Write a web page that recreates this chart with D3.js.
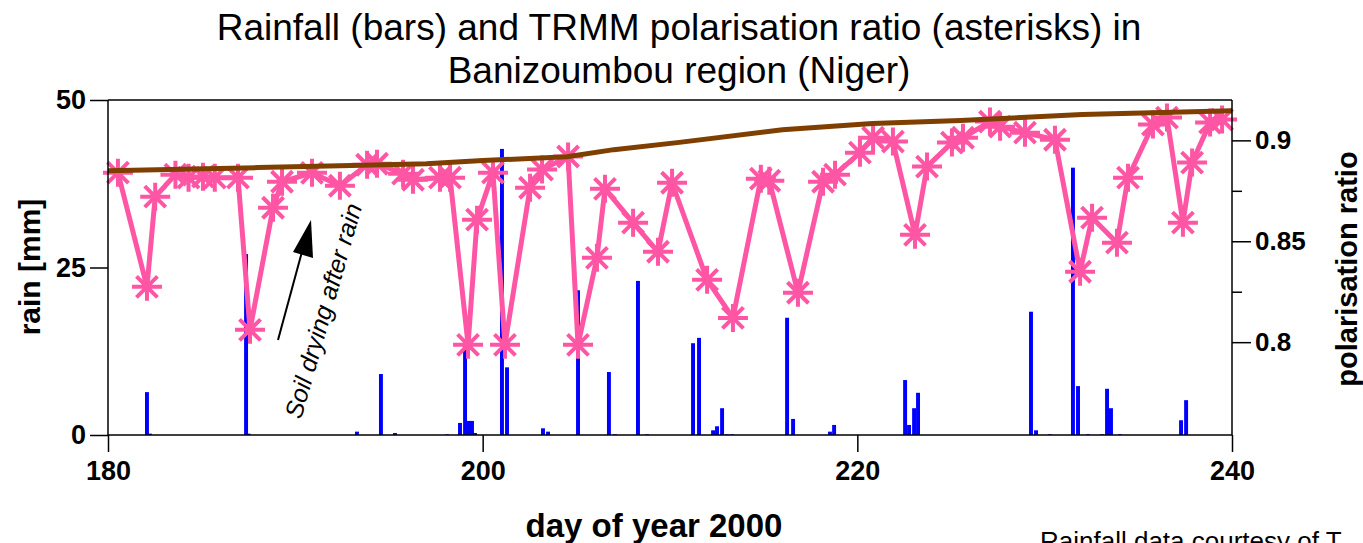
<!DOCTYPE html>
<html>
<head>
<meta charset="utf-8">
<script src="https://cdn.jsdelivr.net/npm/d3@7"></script>
<style>
  html, body { margin: 0; padding: 0; background: #ffffff; }
  svg { display: block; }
  text { font-family: "Liberation Sans", Arial, Helvetica, sans-serif; fill: #000; }
</style>
</head>
<body>
<svg id="chart" width="1363" height="543"></svg>
<script>
// ---------------- data ----------------
const xTicks = [180, 200, 220, 240];
const rainTicks = [0, 25, 50];
const ratioTicks = [0.8, 0.85, 0.9];
const ratioMinorTicks = [0.825, 0.875];

// daily rainfall (mm)
const rainDays = [182.08, 182.24, 187.37, 187.5, 193.29, 194.57, 195.32, 198.10, 198.79, 199.06,
  199.27, 199.43, 199.59, 201.03, 201.30, 203.22, 203.49, 205.09, 206.74, 207.06,
  208.29, 208.77, 211.23, 211.55, 212.30, 212.51, 212.78, 213.04, 213.31, 216.25,
  216.57, 218.54, 218.76, 222.55, 222.76, 223.03, 223.24, 229.27, 229.54, 230.28,
  231.51, 231.78, 232.31, 233.06, 233.33, 233.54, 234.02, 237.28, 237.55];
const rainMM = [6.4, 0.2, 27.0, 0.2, 0.5, 9.1, 0.3, 0.1, 1.8, 14.0,
  2.1, 2.1, 0.3, 42.7, 10.1, 1.0, 0.5, 21.6, 9.4, 0.1,
  23.0, 0.1, 13.7, 14.5, 0.7, 1.3, 4.0, 0.1, 0.1, 17.5,
  2.4, 0.5, 1.5, 8.2, 1.5, 4.0, 6.3, 18.4, 0.7, 0.1,
  39.9, 7.3, 0.1, 0.1, 6.9, 4.0, 0.1, 2.2, 5.2];

// TRMM polarisation ratio (asterisks)
const polDays = [180.53, 182.08, 182.52, 183.60, 184.30, 185.07, 185.70, 186.94, 187.58, 188.81,
  189.29, 190.89, 192.38, 193.83, 194.36, 195.75, 196.28, 197.72, 198.26, 199.22,
  199.70, 200.55, 201.19, 202.53, 203.17, 204.56, 205.09, 206.10, 206.53, 208.03,
  209.36, 210.11, 211.98, 213.36, 214.85, 215.30, 216.83, 218.17, 218.81, 220.14,
  220.84, 221.90, 223.08, 223.72, 225.05, 225.64, 227.08, 227.62, 228.95, 230.55,
  231.89, 232.53, 233.86, 234.45, 235.78, 236.53, 237.38, 237.87, 238.83, 239.47];
const polRatio = [0.8840, 0.8274, 0.8721, 0.8830, 0.8815, 0.8820, 0.8815, 0.8815, 0.8061, 0.8666,
  0.8795, 0.8839, 0.8775, 0.8879, 0.8884, 0.8835, 0.8805, 0.8815, 0.8815, 0.7987,
  0.8607, 0.8840, 0.7987, 0.8765, 0.8855, 0.8920, 0.7987, 0.8418, 0.8760, 0.8592,
  0.8448, 0.8790, 0.8309, 0.8120, 0.8810, 0.8800, 0.8245, 0.8795, 0.8830, 0.8939,
  0.9013, 0.8994, 0.8532, 0.8870, 0.8989, 0.9013, 0.9093, 0.9068, 0.9038, 0.9003,
  0.8349, 0.8617, 0.8493, 0.8815, 0.9078, 0.9113, 0.8592, 0.8890, 0.9088, 0.9103];

// dry-soil reference line (brown)
const refDays = [180, 188, 193, 197, 200, 204.5, 207, 210.5, 216, 220.8, 225.5, 232, 240];
const refRatio = [0.8849, 0.8865, 0.8875, 0.8884, 0.8900, 0.8919, 0.8954, 0.8990, 0.9053, 0.9083, 0.9098, 0.9128, 0.9147];

// ---------------- layout ----------------
const L = 108, R = 1232, T = 100, B = 435;
const svg = d3.select("#chart");

const x = d3.scaleLinear().domain([180, 240]).range([L, R]);
const yRain = d3.scaleLinear().domain([0, 50]).range([B, T]);
const yRatio = d3.scaleLinear().domain([0.754, 0.920]).range([B, T]);

// ---------------- title ----------------
const title = svg.append("g").attr("text-anchor", "middle").style("font-size", "37px");
title.append("text").attr("x", 679).attr("y", 40).text("Rainfall (bars) and TRMM polarisation ratio (asterisks) in");
title.append("text").attr("x", 679).attr("y", 83).text("Banizoumbou region (Niger)");

// ---------------- bars ----------------
const bw = x(180.21) - x(180);
svg.append("g").selectAll("rect").data(rainDays).join("rect")
  .attr("x", (d) => x(d) - bw / 2)
  .attr("width", bw)
  .attr("y", (d, i) => yRain(rainMM[i]))
  .attr("height", (d, i) => yRain(0) - yRain(rainMM[i]))
  .attr("fill", "#0000ff");

// ---------------- polarisation ratio ----------------
const pink = "#ff55a5";
const polPts = polDays.map((d, i) => [d, polRatio[i]]);
svg.append("path")
  .datum(polPts)
  .attr("d", d3.line().x((d) => x(d[0])).y((d) => yRatio(d[1])))
  .attr("fill", "none").attr("stroke", pink).attr("stroke-width", 5).attr("stroke-linejoin", "round");

const star = "M-15,0H15M0,-14V14M-10.5,-10.5L10.5,10.5M-10.5,10.5L10.5,-10.5";
svg.append("g").selectAll("path").data(polPts).join("path")
  .attr("transform", (d) => `translate(${x(d[0])},${yRatio(d[1])})`)
  .attr("d", star)
  .attr("fill", "none").attr("stroke", pink).attr("stroke-width", 4);

// ---------------- brown reference line ----------------
svg.append("path")
  .datum(refDays.map((d, i) => [d, refRatio[i]]))
  .attr("d", d3.line().x((d) => x(d[0])).y((d) => yRatio(d[1])))
  .attr("fill", "none").attr("stroke", "#7f3f00").attr("stroke-width", 5);

// ---------------- axes / frame ----------------
const axisG = svg.append("g").attr("stroke", "#000").attr("stroke-width", 1.5).attr("fill", "none");
axisG.append("line").attr("x1", L).attr("x2", R).attr("y1", T).attr("y2", T);
axisG.append("line").attr("x1", L).attr("x2", R).attr("y1", B).attr("y2", B);
axisG.append("line").attr("x1", L).attr("x2", L).attr("y1", T).attr("y2", B);
axisG.append("line").attr("x1", R).attr("x2", R).attr("y1", T).attr("y2", B);

const tickFont = (sel) => sel.style("font-size", "27px").style("font-weight", "bold")
  .style("font-family", "'Liberation Sans', Arial, sans-serif");

// bottom axis
const xAxis = d3.axisBottom(x).tickValues(xTicks).tickSize(17).tickPadding(9).tickFormat(d3.format("d"));
const gx = svg.append("g").attr("transform", `translate(0,${B})`).call(xAxis);
gx.select(".domain").remove();
gx.selectAll("line").attr("stroke-width", 1.5);
tickFont(gx.selectAll("text"));

// left axis
const yAxisL = d3.axisLeft(yRain).tickValues(rainTicks).tickSize(18).tickPadding(4);
const gyl = svg.append("g").attr("transform", `translate(${L},0)`).call(yAxisL);
gyl.select(".domain").remove();
gyl.selectAll("line").attr("stroke-width", 1.5);
tickFont(gyl.selectAll("text"));

// right axis
const yAxisR = d3.axisRight(yRatio).tickValues(ratioTicks).tickSize(19).tickPadding(4).tickFormat((d) => String(+d.toFixed(2)));
const gyr = svg.append("g").attr("transform", `translate(${R},0)`).call(yAxisR);
gyr.select(".domain").remove();
gyr.selectAll("line").attr("stroke-width", 1.5);
gyr.selectAll("text").style("font-size", "26px").style("font-weight", "bold")
  .style("font-family", "'Liberation Sans', Arial, sans-serif");
const yAxisRm = d3.axisRight(yRatio).tickValues(ratioMinorTicks).tickSize(10).tickFormat("");
const gyrm = svg.append("g").attr("transform", `translate(${R},0)`).call(yAxisRm);
gyrm.select(".domain").remove();
gyrm.selectAll("line").attr("stroke-width", 1.5);

// axis titles
svg.append("text").attr("transform", "translate(40,267) rotate(-90)")
  .attr("text-anchor", "middle").style("font-size", "30px").style("font-weight", "bold").text("rain [mm]");
svg.append("text").attr("transform", "translate(1357,269) rotate(-90)")
  .attr("text-anchor", "middle").style("font-size", "29px").style("font-weight", "bold").text("polarisation ratio");
svg.append("text").attr("x", 654).attr("y", 537)
  .attr("text-anchor", "middle").style("font-size", "33px").style("font-weight", "bold").text("day of year 2000");

// annotation
svg.append("line").attr("x1", 278).attr("y1", 340).attr("x2", 303).attr("y2", 248)
  .attr("stroke", "#000").attr("stroke-width", 2);
svg.append("path").attr("d", "M311,220L313,258L293,252Z").attr("fill", "#000");
svg.append("text").attr("transform", "translate(301,420) rotate(-74)")
  .style("font-size", "25px").style("font-style", "italic").text("Soil drying after rain");

// credit (cut off at the bottom edge, as in the original figure)
svg.append("text").attr("x", 1040).attr("y", 550).style("font-size", "26px").text("Rainfall data courtesy of T.");
</script>
</body>
</html>
